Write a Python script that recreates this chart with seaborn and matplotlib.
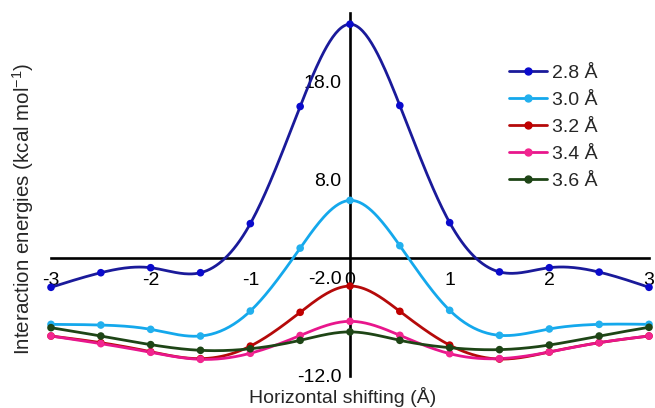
import numpy as np
import pandas as pd
import matplotlib
matplotlib.use('Agg')
import matplotlib.pyplot as plt
from matplotlib.lines import Line2D
import seaborn as sns

# deslocamento horizontal (Å)
shift = [-3, -2.5, -2, -1.5, -1, -0.5, 0, 0.5, 1, 1.5, 2, 2.5, 3]

# energias de interacao (kcal/mol)
e_28 = [-2.95, -1.46, -0.95, -1.46, 3.55, 15.5, 23.9, 15.6, 3.65, -1.38, -0.95, -1.4, -2.95]
e_30 = [-6.73, -6.8, -7.24, -7.92, -5.37, 1.05, 5.92, 1.3, -5.3, -7.85, -7.2, -6.73, -6.73]
e_32 = [-7.92, -8.6, -9.52, -10.23, -8.95, -5.5, -2.82, -5.4, -8.85, -10.27, -9.55, -8.6, -7.92]
e_34 = [-7.92, -8.7, -9.58, -10.3, -9.68, -7.87, -6.42, -7.85, -9.72, -10.23, -9.55, -8.6, -7.92]
e_36 = [-7.07, -7.92, -8.8, -9.38, -9.22, -8.36, -7.5, -8.36, -9.11, -9.31, -8.84, -7.92, -7.03]

series = ['2.8 Å', '3.0 Å', '3.2 Å', '3.4 Å', '3.6 Å']
valores = [e_28, e_30, e_32, e_34, e_36]
cores = ['#1a1a9a', '#14a8ec', '#b50a0a', '#e8168c', '#1e4516']
cores_ponto = ['#0a0acc', '#22b0ee', '#c00000', '#f22590', '#1e4516']

y_ticks = [18, 8, -2, -12]
y_labels = ['18.0', '8.0', '-2.0', '-12.0']
x_ticks = [-3, -2, -1, 0, 1, 2, 3]
x_labels = ['-3', '-2', '-1', '0', '1', '2', '3']


def spline(x, y, n=400):
    # spline cubico natural so para suavizar a linha
    x = np.asarray(x, float)
    y = np.asarray(y, float)
    h = np.diff(x)
    nn = len(x)
    A = np.zeros((nn, nn))
    b = np.zeros(nn)
    A[0, 0] = 1
    A[-1, -1] = 1
    for i in range(1, nn - 1):
        A[i, i - 1] = h[i - 1]
        A[i, i] = 2 * (h[i - 1] + h[i])
        A[i, i + 1] = h[i]
        b[i] = 3 * ((y[i + 1] - y[i]) / h[i] - (y[i] - y[i - 1]) / h[i - 1])
    c = np.linalg.solve(A, b)
    bc = (y[1:] - y[:-1]) / h - h * (2 * c[:-1] + c[1:]) / 3
    d = (c[1:] - c[:-1]) / (3 * h)
    xs = np.linspace(x[0], x[-1], n)
    idx = np.clip(np.searchsorted(x, xs) - 1, 0, nn - 2)
    dx = xs - x[idx]
    ys = y[idx] + bc[idx] * dx + c[idx] * dx ** 2 + d[idx] * dx ** 3
    return xs, ys


pontos = pd.DataFrame({
    'shift': shift * len(series),
    'energia': sum(valores, []),
    'serie': [s for s in series for _ in shift],
})

sns.set_theme(style='white')
plt.rcParams['font.family'] = ['Liberation Sans', 'DejaVu Sans']
plt.rcParams['mathtext.fontset'] = 'custom'
plt.rcParams['mathtext.rm'] = 'Liberation Sans'
plt.rcParams['mathtext.it'] = 'Liberation Sans'

fig = plt.figure(figsize=(6.55, 4.08), dpi=100)
ax = fig.add_axes([51 / 655, 32 / 408, 598 / 655, 362.6 / 408])

for s, v, cor in zip(series, valores, cores):
    xs, ys = spline(shift, v)
    suave = pd.DataFrame({'shift': xs, 'energia': ys})
    sns.lineplot(data=suave, x='shift', y='energia', color=cor, linewidth=2.0,
                 ax=ax, zorder=3, clip_on=False)

sns.scatterplot(data=pontos, x='shift', y='energia', hue='serie', palette=cores_ponto,
                s=30, edgecolor='none', ax=ax, zorder=4, clip_on=False, legend=False)

ax.set_xlim(-3, 3)
ax.set_ylim(-12, 25)

ax.spines['left'].set_position(('data', 0))
ax.spines['bottom'].set_position(('data', 0))
ax.spines['right'].set_visible(False)
ax.spines['top'].set_visible(False)
for sp in ['left', 'bottom']:
    ax.spines[sp].set_linewidth(1.9)
    ax.spines[sp].set_color('black')
    ax.spines[sp].set_zorder(2)

ax.set_yticks(y_ticks)
ax.set_yticklabels(y_labels)
ax.set_xticks(x_ticks)
ax.set_xticklabels(x_labels)
ax.tick_params(axis='both', length=0, labelsize=14, colors='black')
ax.tick_params(axis='x', pad=10)
ax.tick_params(axis='y', pad=6)

ax.set_xlabel('Horizontal shifting (Å)', fontsize=14)
ax.set_ylabel(r'Interaction energies (kcal mol$^{-1}$)', fontsize=14.8)
ax.xaxis.set_label_coords(0.488, -0.03)
ax.yaxis.set_label_coords(-0.025, 0.46)

handles = [Line2D([0], [0], color=c, lw=2.0, marker='o', markersize=5,
                  markerfacecolor=cp, markeredgecolor=cp)
           for c, cp in zip(cores, cores_ponto)]
fig.legend(handles, series, loc='upper left', bbox_to_anchor=(509 / 655, 1 - 64 / 408),
           frameon=False, fontsize=14, handlelength=1.95, handletextpad=0.25,
           labelspacing=0.49, borderpad=0, borderaxespad=0)

plt.savefig('out.png', dpi=100)
plt.close()
